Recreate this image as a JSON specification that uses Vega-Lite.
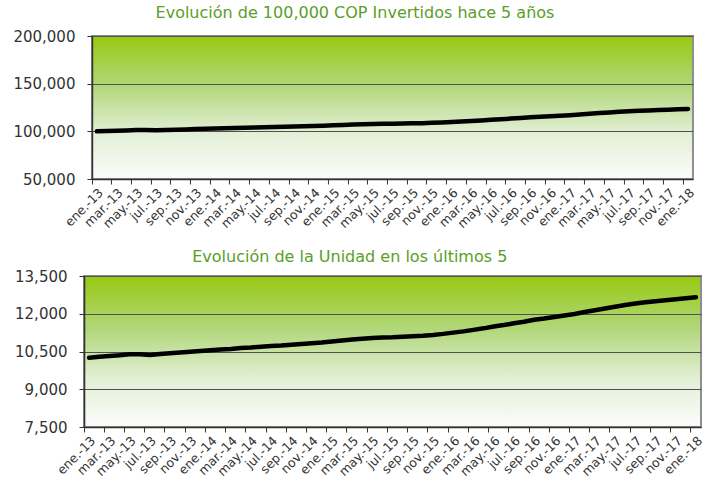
{
  "$schema": "https://vega.github.io/schema/vega-lite/v6.json",
  "background": "white",
  "padding": {"left": 11, "top": 4, "right": 4, "bottom": 4},
  "spacing": 16,
  "center": true,
  "datasets": {
    "serie": [
      {"m": "ene.-13", "inv": 100000, "uni": 10250},
      {"m": "feb.-13", "inv": 100390, "uni": 10290},
      {"m": "mar.-13", "inv": 100683, "uni": 10320},
      {"m": "abr.-13", "inv": 100976, "uni": 10350},
      {"m": "may.-13", "inv": 101366, "uni": 10390},
      {"m": "jun.-13", "inv": 101415, "uni": 10395},
      {"m": "jul.-13", "inv": 101073, "uni": 10360},
      {"m": "ago.-13", "inv": 101463, "uni": 10400},
      {"m": "sep.-13", "inv": 101756, "uni": 10430},
      {"m": "oct.-13", "inv": 102049, "uni": 10460},
      {"m": "nov.-13", "inv": 102341, "uni": 10490},
      {"m": "dic.-13", "inv": 102634, "uni": 10520},
      {"m": "ene.-14", "inv": 102927, "uni": 10550},
      {"m": "feb.-14", "inv": 103171, "uni": 10575},
      {"m": "mar.-14", "inv": 103415, "uni": 10600},
      {"m": "abr.-14", "inv": 103805, "uni": 10640},
      {"m": "may.-14", "inv": 104000, "uni": 10660},
      {"m": "jun.-14", "inv": 104293, "uni": 10690},
      {"m": "jul.-14", "inv": 104585, "uni": 10720},
      {"m": "ago.-14", "inv": 104780, "uni": 10740},
      {"m": "sep.-14", "inv": 105073, "uni": 10770},
      {"m": "oct.-14", "inv": 105366, "uni": 10800},
      {"m": "nov.-14", "inv": 105659, "uni": 10830},
      {"m": "dic.-14", "inv": 105951, "uni": 10860},
      {"m": "ene.-15", "inv": 106341, "uni": 10900},
      {"m": "feb.-15", "inv": 106732, "uni": 10940},
      {"m": "mar.-15", "inv": 107122, "uni": 10980},
      {"m": "abr.-15", "inv": 107415, "uni": 11010},
      {"m": "may.-15", "inv": 107707, "uni": 11040},
      {"m": "jun.-15", "inv": 107902, "uni": 11060},
      {"m": "jul.-15", "inv": 108000, "uni": 11070},
      {"m": "ago.-15", "inv": 108195, "uni": 11090},
      {"m": "sep.-15", "inv": 108390, "uni": 11110},
      {"m": "oct.-15", "inv": 108585, "uni": 11130},
      {"m": "nov.-15", "inv": 108878, "uni": 11160},
      {"m": "dic.-15", "inv": 109268, "uni": 11200},
      {"m": "ene.-16", "inv": 109756, "uni": 11250},
      {"m": "feb.-16", "inv": 110244, "uni": 11300},
      {"m": "mar.-16", "inv": 110829, "uni": 11360},
      {"m": "abr.-16", "inv": 111415, "uni": 11420},
      {"m": "may.-16", "inv": 112098, "uni": 11490},
      {"m": "jun.-16", "inv": 112683, "uni": 11550},
      {"m": "jul.-16", "inv": 113366, "uni": 11620},
      {"m": "ago.-16", "inv": 113951, "uni": 11680},
      {"m": "sep.-16", "inv": 114732, "uni": 11760},
      {"m": "oct.-16", "inv": 115220, "uni": 11810},
      {"m": "nov.-16", "inv": 115805, "uni": 11870},
      {"m": "dic.-16", "inv": 116390, "uni": 11930},
      {"m": "ene.-17", "inv": 116976, "uni": 11990},
      {"m": "feb.-17", "inv": 117756, "uni": 12070},
      {"m": "mar.-17", "inv": 118439, "uni": 12140},
      {"m": "abr.-17", "inv": 119122, "uni": 12210},
      {"m": "may.-17", "inv": 119805, "uni": 12280},
      {"m": "jun.-17", "inv": 120488, "uni": 12350},
      {"m": "jul.-17", "inv": 121073, "uni": 12410},
      {"m": "ago.-17", "inv": 121561, "uni": 12460},
      {"m": "sep.-17", "inv": 121951, "uni": 12500},
      {"m": "oct.-17", "inv": 122341, "uni": 12540},
      {"m": "nov.-17", "inv": 122732, "uni": 12580},
      {"m": "dic.-17", "inv": 123122, "uni": 12620},
      {"m": "ene.-18", "inv": 123512, "uni": 12660}
    ]
  },
  "config": {
    "font": "DejaVu Sans",
    "view": {
      "fill": {"gradient": "linear", "x1": 0, "y1": 0, "x2": 0, "y2": 1,
        "stops": [
          {"offset": 0, "color": "#97c912"},
          {"offset": 0.35, "color": "#b1d77a"},
          {"offset": 0.68, "color": "#e3efd6"},
          {"offset": 1, "color": "#fcfcfb"}
        ]},
      "stroke": "#8e8e8e",
      "strokeWidth": 2
    },
    "axis": {
      "domainColor": "#333333",
      "domainWidth": 1.5,
      "tickColor": "#333333",
      "labelColor": "#333333",
      "title": null,
      "tickSize": 5
    },
    "axisX": {"labelAngle": -45, "labelFontSize": 12.5, "bandPosition": 0, "labelPadding": 2},
    "axisY": {"labelFontSize": 15, "labelPadding": 12, "gridColor": "#505050", "gridWidth": 1.2},
    "title": {"font": "DejaVu Sans", "fontSize": 16, "fontWeight": "normal", "color": "#5a9e28", "anchor": "middle", "frame": "bounds"}
  },
  "vconcat": [
    {
      "title": {"text": "Evolución de 100,000 COP Invertidos hace 5 años", "offset": 8},
      "width": 601,
      "height": 143,
      "data": {"name": "serie"},
      "mark": {"type": "line", "color": "#000000", "strokeWidth": 4.5, "strokeCap": "round"},
      "encoding": {
        "x": {"field": "m", "type": "ordinal", "sort": null,
          "scale": {"type": "band", "paddingInner": 0, "paddingOuter": 0},
          "bandPosition": 0.5,
          "axis": {"values": ["ene.-13","mar.-13","may.-13","jul.-13","sep.-13","nov.-13","ene.-14","mar.-14","may.-14","jul.-14","sep.-14","nov.-14","ene.-15","mar.-15","may.-15","jul.-15","sep.-15","nov.-15","ene.-16","mar.-16","may.-16","jul.-16","sep.-16","nov.-16","ene.-17","mar.-17","may.-17","jul.-17","sep.-17","nov.-17","ene.-18"]}},
        "y": {"field": "inv", "type": "quantitative",
          "scale": {"domain": [50000, 200000], "nice": false, "zero": false},
          "axis": {"values": [50000, 100000, 150000, 200000], "format": ",d"}}
      }
    },
    {
      "title": {"text": "Evolución de la Unidad en los últimos 5", "offset": 4, "dx": -10},
      "width": 617,
      "height": 151,
      "data": {"name": "serie"},
      "mark": {"type": "line", "color": "#000000", "strokeWidth": 4.5, "strokeCap": "round"},
      "encoding": {
        "x": {"field": "m", "type": "ordinal", "sort": null,
          "scale": {"type": "band", "paddingInner": 0, "paddingOuter": 0},
          "bandPosition": 0.5,
          "axis": {"values": ["ene.-13","mar.-13","may.-13","jul.-13","sep.-13","nov.-13","ene.-14","mar.-14","may.-14","jul.-14","sep.-14","nov.-14","ene.-15","mar.-15","may.-15","jul.-15","sep.-15","nov.-15","ene.-16","mar.-16","may.-16","jul.-16","sep.-16","nov.-16","ene.-17","mar.-17","may.-17","jul.-17","sep.-17","nov.-17","ene.-18"]}},
        "y": {"field": "uni", "type": "quantitative",
          "scale": {"domain": [7500, 13500], "nice": false, "zero": false},
          "axis": {"values": [7500, 9000, 10500, 12000, 13500], "format": ",d"}}
      }
    }
  ]
}
